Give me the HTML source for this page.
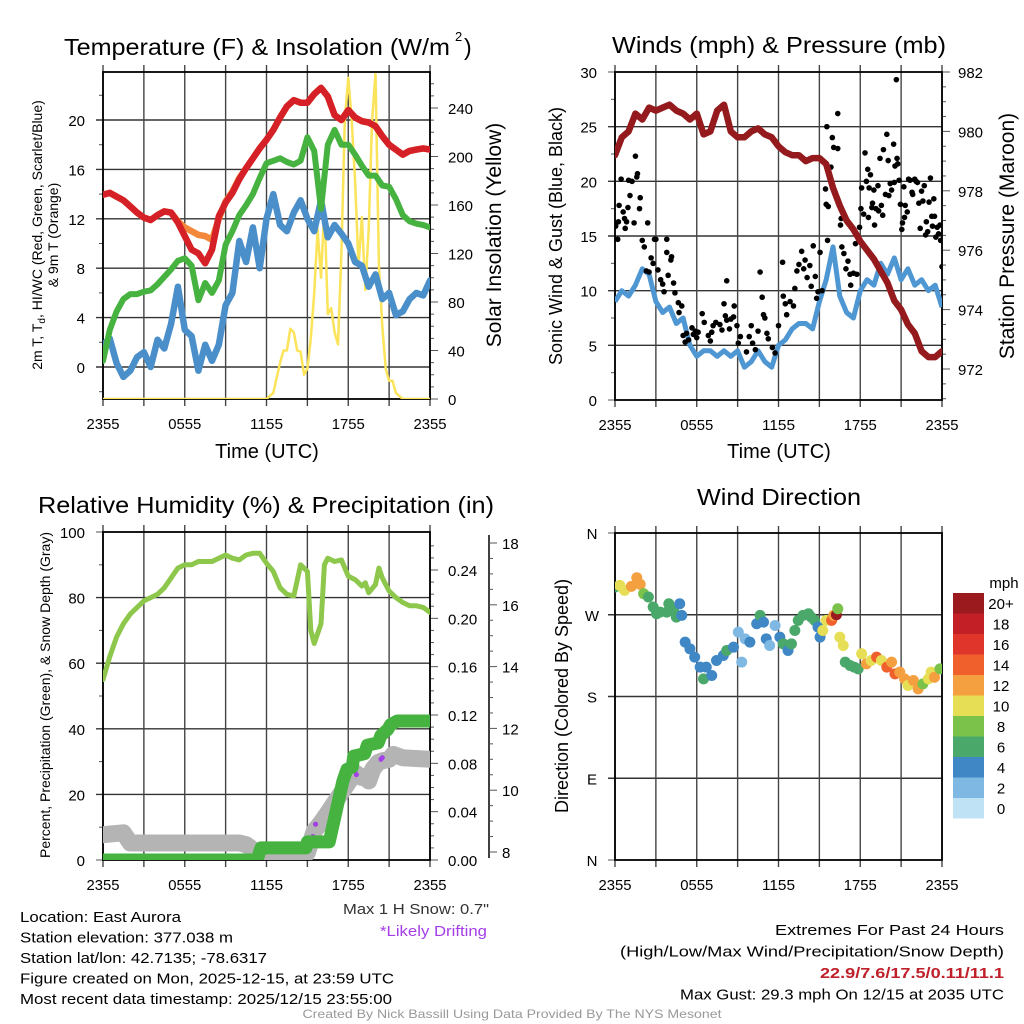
<!DOCTYPE html>
<html><head><meta charset="utf-8"><style>
html,body{margin:0;padding:0;background:#fff}
svg{display:block;font-family:"Liberation Sans",sans-serif}
</style></head><body>
<svg id="fig" width="1024" height="1024" viewBox="0 0 1024 1024" xmlns="http://www.w3.org/2000/svg"></svg>
<script>
// ---------- DATA ----------
const hours = [0,0.5,1,1.5,2,2.5,3,3.5,4,4.5,5,5.5,6,6.5,7,7.5,8,8.5,9,9.5,10,10.5,11,11.5,12,12.5,13,13.5,14,14.5,15,15.5,16,16.5,17,17.5,18,18.5,19,19.5,20,20.5,21,21.5,22,22.5,23,23.5,24];
const tempRed = [13.95,14.1,13.8,13.5,13.0,12.5,12.1,11.9,12.3,12.6,12.5,11.7,10.6,9.5,9.2,8.4,9.5,12.2,13.3,14.1,15.2,16.1,16.9,17.7,18.4,19.2,20.2,21.1,21.6,21.4,21.4,22.1,22.6,21.9,20.4,20.0,20.8,20.2,19.9,19.8,19.5,18.7,18.0,17.6,17.2,17.5,17.6,17.7,17.6];
const temp9m = [13.95,14.1,13.8,13.5,13.0,12.5,12.1,11.9,12.3,12.6,12.5,11.8,11.3,11.0,10.7,10.6,10.3,12.0,13.4,14.2,15.3,16.1,16.9,17.7,18.4,19.2,20.2,21.1,21.6,21.4,21.4,22.1,22.6,21.9,20.4,20.0,20.8,20.2,19.9,19.8,19.5,18.7,18.0,17.6,17.2,17.5,17.6,17.7,17.6];
const dewGreen = [0.5,3.0,4.5,5.5,5.9,5.9,6.1,6.2,6.7,7.3,7.9,8.6,8.8,8.2,5.4,6.8,6.0,7.0,9.9,11.0,12.3,13.1,14.0,15.3,16.5,16.7,16.9,16.6,16.4,16.7,18.6,17.5,12.8,18.0,19.2,18.0,18.0,17.2,16.3,15.5,15.5,14.7,14.6,13.6,12.3,11.8,11.6,11.5,11.3];
const chillBlue = [1.8,2.3,0.3,-0.8,-0.3,0.8,1.2,0.0,2.2,1.5,3.5,6.5,3.0,2.5,-0.3,1.8,0.5,1.8,5.0,6.0,10.2,8.5,11.3,8.0,12.0,14.0,11.5,11.0,12.5,13.5,12.0,11.0,13.5,10.5,11.5,10.8,10.0,8.5,8.2,6.5,7.5,5.5,6.0,4.2,4.5,5.5,6.0,5.8,7.0];
const solarHours = [0,12,12.5,13,13.25,13.5,13.75,14,14.25,14.5,14.75,15,15.25,15.5,15.75,16,16.25,16.5,16.75,17,17.25,17.5,17.75,18,18.25,18.5,18.75,19,19.25,19.5,19.75,20,20.25,20.5,20.75,21,21.25,21.5,22,24];
const solarVals = [0,0,5,30,40,40,58,55,40,39,20,25,50,87,140,100,160,70,75,55,45,120,230,265,230,180,110,150,90,140,230,268,110,60,25,15,15,5,0,0];
const pressure = [979.2,979.8,980.0,980.6,980.4,980.8,980.7,980.8,980.9,980.7,980.6,980.4,980.6,979.9,980.0,980.7,980.9,980.0,979.8,979.8,980.0,980.1,979.9,979.8,979.5,979.3,979.2,979.2,979.0,979.1,979.1,978.9,978.1,977.5,977.0,976.7,976.3,976.0,975.7,975.3,974.9,974.3,974.0,973.5,973.2,972.6,972.4,972.4,972.6];
const windSpeed = [9.0,10.0,9.5,10.5,12.0,11.5,9.0,8.0,8.5,7.0,7.5,5.0,4.0,4.5,4.5,4.0,4.5,4.0,4.5,3.0,3.5,4.5,3.5,3.0,5.0,5.5,6.5,7.0,7.0,6.5,9.0,11.0,14.0,9.5,8.0,7.5,10.0,11.0,10.5,12.5,11.5,13.0,11.0,12.0,10.5,11.0,10.0,10.5,8.5];
const gustHours = [0,0.05,0.2,0.25,0.3,0.45,0.6,0.7,0.75,0.85,0.95,1.0,1.1,1.25,1.4,1.5,1.6,1.65,1.8,1.85,2.0,2.15,2.3,2.4,2.5,2.65,2.8,2.9,3.0,3.15,3.35,3.5,3.6,3.8,3.8,3.9,4.1,4.15,4.3,4.4,4.65,4.7,4.9,5.0,5.15,5.25,5.4,5.65,5.75,5.9,6.0,6.1,6.4,6.55,6.85,7.0,7.1,7.2,7.4,7.7,7.85,8.0,8.1,8.2,8.2,8.4,8.5,8.7,8.75,8.95,9.05,9.2,9.65,9.85,10.0,10.1,10.3,10.5,10.65,10.8,10.9,11.0,11.15,11.25,11.55,11.75,12.0,12.3,12.35,12.5,12.6,12.85,13.1,13.2,13.35,13.5,13.7,13.85,13.95,14.1,14.3,14.4,14.55,14.7,14.8,14.9,15.05,15.2,15.45,15.55,15.5,15.65,15.6,15.85,15.95,16.05,16.35,16.35,16.15,16.55,16.6,16.65,16.8,16.95,17.1,17.25,17.3,17.5,17.65,17.75,17.9,17.95,18.05,18.1,18.25,18.35,18.45,18.55,18.6,18.65,18.75,18.85,18.9,19.0,19.05,19.15,19.3,19.35,19.45,19.55,19.65,19.7,19.85,19.95,20.05,20.1,20.2,20.3,20.45,20.5,20.55,20.65,20.7,20.75,20.85,20.95,21.05,21.1,21.2,21.25,21.3,21.45,21.55,21.65,21.8,21.85,22.0,22.1,22.2,22.3,22.4,22.5,22.6,22.7,22.8,22.85,22.95,23.05,23.15,23.25,23.3,23.4,23.45,23.55,23.65,23.75,23.85,23.9,24.0];
const gustVals = [16.2,15.9,14.7,16.3,17.8,20.2,17.2,16.6,15.7,16.3,17.6,20.1,18.7,20.0,16.2,22.3,20.4,20.7,17.5,18.5,14.6,14.0,11.8,16.2,11.7,13.0,12.5,14.7,14.7,11.9,11.0,10.6,9.9,14.7,13.5,11.4,12.8,13.1,10.7,9.8,8.9,8.0,8.6,5.9,5.3,6.1,5.5,6.6,6.0,6.3,5.7,6.2,7.9,7.1,5.9,5.4,6.2,6.8,7.1,6.9,6.4,8.8,7.7,7.3,10.9,6.5,7.4,7.6,8.6,6.8,5.2,5.8,4.4,5.8,6.8,5.2,4.6,6.3,11.7,9.4,7.8,7.5,6.1,5.6,4.8,4.3,6.8,12.6,9.5,8.8,7.8,9.0,8.6,10.2,11.8,12.4,13.6,12.0,12.8,11.2,12.3,10.4,14.1,11.3,9.3,9.9,13.5,10.0,19.3,25.0,17.9,17.7,14.6,21.3,24.0,23.1,26.2,23.0,19.0,16.0,16.6,14.0,13.4,12.0,12.7,11.5,10.5,11.6,14.3,11.5,14.5,15.8,17.5,19.4,17.0,22.6,20.0,21.1,16.7,19.4,20.6,17.6,18.0,19.2,16.0,17.5,19.6,17.3,22.1,17.8,16.9,22.9,18.8,24.3,21.9,18.7,19.8,19.2,23.4,19.9,21.4,29.3,22.1,21.6,20.1,17.9,15.6,16.2,19.5,16.7,17.8,17.2,20.2,20.1,19.0,18.8,20.2,20.0,19.9,18.0,15.7,19.1,18.2,19.6,15.1,16.3,15.4,18.1,20.3,16.8,15.9,18.4,16.8,14.9,15.8,15.2,16.0,14.6,12.2];
const rhHours = [0,0.5,1,1.5,2,2.5,3,3.5,4,4.5,5,5.5,6,6.5,7,7.5,8,8.5,9,9.5,10,10.5,11,11.5,12,12.5,13,13.5,14,14.5,15,15.25,15.5,16,16.25,16.5,17,17.5,18,18.5,19,19.25,19.5,20,20.25,20.5,21,21.5,22,22.5,23,23.5,24];
const rhVals = [55,62,68,72,75,77,79,80,81,83,86,89,90,90,91,91,91,92,93,92,91.5,93,93.5,93.5,90.5,88,83,81,80.5,90,88,70,66,72,90,92,91,91.5,86.5,85.5,83.5,84.5,81.5,84,89,86,82,80,78.5,77.5,77.5,77,75.5];
const precipHours = [0,11.3,11.6,14.9,15.0,16.6,16.9,17.3,17.6,17.9,18.3,18.4,19.2,19.4,20.2,20.4,20.9,21.1,21.6,24];
const precipVals = [0,0,0.01,0.01,0.015,0.015,0.03,0.05,0.065,0.075,0.077,0.086,0.088,0.095,0.097,0.103,0.108,0.112,0.115,0.115];
const snowHours = [0,1.5,2,10,10.5,11,11.5,14.7,15,15.5,16,16.5,17,17.5,18,18.5,19,19.3,19.5,19.8,20.2,20.5,21,21.3,22,24];
const snowVals = [8.56,8.62,8.29,8.29,8.24,8.08,7.87,7.82,7.98,8.68,8.95,9.27,9.60,9.92,10.25,10.57,10.41,10.46,10.30,10.68,10.90,10.95,11.0,11.16,11.05,11.0];
const driftHours = [15.4,15.6,18.5,18.6,20.4,20.5];
const driftVals = [8.5,8.9,10.6,10.5,11.0,11.05];
const dirHours = [0,0.35,0.7,1.2,1.6,1.85,2.1,2.45,2.8,3.05,3.3,3.8,3.95,4.3,4.5,4.75,4.9,5.15,5.5,5.85,6.25,6.5,6.7,7.1,7.45,7.95,8.2,8.7,9.05,9.3,9.55,9.9,10.4,10.65,10.9,11.1,11.35,11.75,12.1,12.35,12.7,12.95,13.2,13.45,13.8,14.2,14.4,14.65,14.9,15.05,15.25,15.5,15.9,16.05,16.25,16.35,16.5,16.75,16.9,17.25,17.55,17.85,18.1,18.45,18.8,19.2,19.55,19.95,20.3,20.55,20.9,21.25,21.5,21.9,22.25,22.6,23.0,23.2,23.45,23.85];
const dirVals = [300.5,302.4,296.8,301.3,310.8,303.5,293.2,289.5,278.5,271.1,272.9,272.9,282.1,274.8,267.4,282.1,269.3,239.9,232.5,223.3,212.3,199.4,212.3,203.1,219.6,225.1,230.7,234.3,250.9,217.8,243.5,239.9,260.1,269.3,261.9,243.5,236.2,258.2,245.4,238.0,230.7,238.0,252.7,263.8,269.3,271.1,267.4,263.8,256.4,245.4,252.7,263.8,263.8,269.3,270.0,276.6,245.4,236.2,217.8,214.1,212.3,210.4,227.0,216.0,219.6,223.3,219.6,212.3,217.8,204.9,206.8,199.4,192.1,197.6,188.4,193.9,199.4,206.8,201.2,210.4];
const dirSpeeds = [7,10,10,12,12,12,8,7,7,7,6,7,7,7,7,4,4,4,4,4,4,6,4,4,4,4,6,4,3,2,2,4,4,6,4,4,2,2,4,6,4,6,6,6,7,7,6,7,4,4,10,10,14,12,20,8,10,10,6,7,7,7,10,12,10,14,10,14,12,14,12,12,10,12,12,8,10,10,12,8];
const speedColors = ["#bfe3f5","#7fb9e3","#3f88c5","#4aa86a","#7bc24a","#e6df55","#f5a040","#f0602d","#e0352b","#c21f26","#9a1a1d"];
const speedLabels = ["0","2","4","6","8","10","12","14","16","18","20+"];
const timeLabels = ["2355","0555","1155","1755","2355"];

// ---------- HELPERS ----------
const NS="http://www.w3.org/2000/svg";
const svg=document.getElementById('fig');
function mk(tag,attrs,parent){const e=document.createElementNS(NS,tag);for(const k in attrs)e.setAttribute(k,attrs[k]);(parent||svg).appendChild(e);return e;}
function txt(s,x,y,size,anchor,parent,extra){const e=mk('text',Object.assign({x:x,y:y,'font-size':size,'text-anchor':anchor||'middle',fill:'#000'},extra||{}),parent);e.textContent=s;return e;}
const L=103,R=430,L2=615,R2=942;
function xs(left,right){return h=>left+h*(right-left)/24;}
function lin(v0,p0,v1,p1){return v=>p0+(v-v0)*(p1-p0)/(v1-v0);}
function pathFrom(hs,vs,fx,fy){return hs.map((h,i)=>(i?'L':'M')+fx(h).toFixed(1)+','+fy(vs[i]).toFixed(1)).join(' ');}
function clip(id,x,y,w,h){const d=mk('clipPath',{id:id});mk('rect',{x:x,y:y,width:w,height:h},d);}
function frame(g,left,right,top,bottom,yTicksFn,name){
  for(let i=0;i<=8;i++){const x=left+i*(right-left)/8;
    const l=mk('line',{x1:x,y1:top-7,x2:x,y2:bottom+7,stroke:'#444','stroke-width':1.4},g);
    
    }
  const bx=mk('rect',{x:left,y:top,width:right-left,height:bottom-top,fill:'none',stroke:'#000','stroke-width':1.8},g);
  
  
  timeLabels.forEach((s,i)=>{const t=txt(s,left+i*(right-left)/4,bottom+30,15,'middle',g,{textLength:33,lengthAdjust:'spacingAndGlyphs'});
    
    });
}
function hgrid(g,left,right,y,tick){const l=mk('line',{x1:left-(tick?7:0),y1:y,x2:right,y2:y,stroke:'#333','stroke-width':1.4},g);
  
  }
function tick(g,x,y,len){mk('line',{x1:x,y1:y,x2:x+len,y2:y,stroke:'#555','stroke-width':1},g);}
mk('rect',{x:0,y:0,width:1024,height:1024,fill:'#fff'});
clip('c1',L,72,R-L,327);clip('c2',L2,72,R2-L2,328);clip('c3',L,532,R-L,328);clip('c4',L2,533,R2-L2,327);

// ---------- PANEL 1: Temperature ----------
(function(){
const g=mk('g',{});
const T=72,B=399,x=xs(L,R),y=lin(0,367,20,120),ys=lin(0,399,240,108);
const tt=txt('Temperature (F) & Insolation (W/m',64,55,23,'start',g,{textLength:386,lengthAdjust:'spacingAndGlyphs'});

txt('2',455,41,13,'start',g);txt(')',464,55,23,'start',g);
for(let v=0;v<=20;v+=4){hgrid(g,L,R,y(v),true);const t=txt(String(v),85,y(v)+6,15,'end',g);
  }
for(let v=-2;v<=22;v+=4)tick(g,L,y(v),-4);
for(let v=0;v<=270;v+=10){const yy=ys(v);if(yy<T)continue;tick(g,R,yy,v%40==0?8:4);}
for(let v=0;v<=240;v+=40){const t=txt(String(v),448,ys(v)+6,15,'start',g);
  }
frame(g,L,R,T,B,null,'temperature');
const d=mk('g',{'clip-path':'url(#c1)'},g);
const s=[[solarHours,solarVals,'#fbe35a',2.5,ys,'solar-insolation-line'],[hours,chillBlue,'#4a8fca',6.5,y,'windchill-line'],[hours,dewGreen,'#46b240',6,y,'dewpoint-line'],[hours,temp9m,'#f3873a',6.5,y,'temp-9m-line'],[hours,tempRed,'#d42026',6.5,y,'temp-2m-line']];
s.forEach(a=>{const p=mk('path',{d:pathFrom(a[0],a[1],x,a[4]),fill:'none',stroke:a[2],'stroke-width':a[3],'stroke-linejoin':'round','stroke-linecap':'round'},d);
  });
const yt=txt('Time (UTC)',267,458,20,'middle',g);
const a1=txt('2m T, T',0,0,14,'middle',g,{transform:'translate(42,235) rotate(-90)'});
a1.innerHTML='2m T, T<tspan font-size="10" dy="3">d</tspan><tspan dy="-3">, HI/WC (Red, Green, Scarlet/Blue)</tspan>';

txt('& 9m T (Orange)',0,0,14,'middle',g,{transform:'translate(58,235) rotate(-90)'});
const a2=txt('Solar Insolation (Yellow)',0,0,21,'middle',g,{transform:'translate(501,235) rotate(-90)'});

})();

// ---------- PANEL 2: Winds ----------
(function(){
const g=mk('g',{});
const T=72,B=400,x=xs(L2,R2),y=lin(0,400,30,72),yp=lin(972,369,982,72);
const tt=txt('Winds (mph) & Pressure (mb)',779,53,23,'middle',g,{textLength:334,lengthAdjust:'spacingAndGlyphs'});

for(let v=0;v<=30;v+=5){if(v>0&&v<30)hgrid(g,L2,R2,y(v),true);else tick(g,L2,y(v),-7);const t=txt(String(v),597,y(v)+6,15,'end',g);
  }
for(let v=2.5;v<30;v+=5)tick(g,L2,y(v),-4);
for(let v=971;v<=982;v+=0.5){tick(g,R2,yp(v),(v%2==0)?8:4);}
for(let v=972;v<=982;v+=2){const t=txt(String(v),958,yp(v)+6,15,'start',g);
  }
frame(g,L2,R2,T,B,null,'winds');
const d=mk('g',{'clip-path':'url(#c2)'},g);
const w=mk('path',{d:pathFrom(hours,windSpeed,x,y),fill:'none',stroke:'#4f97d3','stroke-width':5,'stroke-linejoin':'round'},d);

gustHours.forEach((h,i)=>{const c=mk('circle',{cx:x(h),cy:y(gustVals[i]),r:2.8,fill:'#000'},d);
  
  });
const p=mk('path',{d:pathFrom(hours,pressure,x,yp),fill:'none',stroke:'#941a1d','stroke-width':6.5,'stroke-linejoin':'round','stroke-linecap':'round'},d);

const yt=txt('Time (UTC)',779,458,20,'middle',g);
const a1=txt('Sonic Wind & Gust (Blue, Black)',0,0,18,'middle',g,{transform:'translate(562,236) rotate(-90)'});

const a2=txt('Station Pressure (Maroon)',0,0,21,'middle',g,{transform:'translate(1014,236) rotate(-90)'});

})();

// ---------- PANEL 3: RH & Precip ----------
(function(){
const g=mk('g',{});
const T=532,B=860,x=xs(L,R),y=lin(0,860,100,532),yq=lin(0,860,0.24,570),ysn=lin(8,852,18,543);
const tt=txt('Relative Humidity (%) & Precipitation (in)',266,513,23,'middle',g,{textLength:456,lengthAdjust:'spacingAndGlyphs'});

for(let v=0;v<=100;v+=20){if(v>0&&v<100)hgrid(g,L,R,y(v),true);else tick(g,L,y(v),-7);const t=txt(String(v),85,y(v)+6,15,'end',g);
  }
for(let v=10;v<100;v+=20)tick(g,L,y(v),-4);
for(let v=0;v<=0.27;v+=0.01){tick(g,R,yq(v),(Math.round(v*100)%4==0)?8:4);}
[0,0.04,0.08,0.12,0.16,0.20,0.24].forEach(v=>{const t=txt(v.toFixed(2),448,yq(v)+6,15,'start',g);
  });
mk('line',{x1:489,y1:535,x2:489,y2:858,stroke:'#000','stroke-width':1.5},g);
for(let v=8;v<=18;v+=0.5)tick(g,489,ysn(v),(v%2==0)?8:4);
for(let v=8;v<=18;v+=2){const t=txt(String(v),502,ysn(v)+6,15,'start',g);
  }
frame(g,L,R,T,B,null,'humidity');
const d=mk('g',{'clip-path':'url(#c3)'},g);
const sn=mk('path',{d:pathFrom(snowHours,snowVals,x,ysn),fill:'none',stroke:'#b4b4b4','stroke-width':17,'stroke-linejoin':'round','stroke-linecap':'round'},d);

driftHours.forEach((h,i)=>{const c=mk('circle',{cx:x(h),cy:ysn(driftVals[i]),r:2.5,fill:'#a43ee8'},d);
  
  });
const pr=mk('path',{d:pathFrom(precipHours,precipVals,x,yq),fill:'none',stroke:'#46b340','stroke-width':13,'stroke-linejoin':'round','stroke-linecap':'round'},d);

const rh=mk('path',{d:pathFrom(rhHours,rhVals,x,y),fill:'none',stroke:'#8dc74b','stroke-width':5,'stroke-linejoin':'round','stroke-linecap':'round'},d);

const a1=txt('Percent, Precipitation (Green), & Snow Depth (Gray)',0,0,14,'middle',g,{transform:'translate(50,695) rotate(-90)'});

})();

// ---------- PANEL 4: Wind direction ----------
(function(){
const g=mk('g',{});
const T=533,B=860,x=xs(L2,R2),y=lin(0,860,360,533);
const tt=txt('Wind Direction',779,505,23,'middle',g,{textLength:164,lengthAdjust:'spacingAndGlyphs'});

const lab=['N','E','S','W','N'];
for(let i=0;i<=4;i++){const v=i*90;if(i>0&&i<4)hgrid(g,L2,R2,y(v),true);else tick(g,L2,y(v),-7);
  const t=txt(lab[i],592,y(v)+6,15,'middle',g);}
frame(g,L2,R2,T,B,null,'wind-direction');
const d=mk('g',{'clip-path':'url(#c4)'},g);
dirHours.forEach((h,i)=>{const b=Math.max(0,Math.min(10,Math.floor(dirSpeeds[i]/2)));
  const c=mk('circle',{cx:x(h),cy:y(dirVals[i]),r:5.5,fill:speedColors[b]},d);
  
  });
const a1=txt('Direction (Colored By Speed)',0,0,18,'middle',g,{transform:'translate(568,696) rotate(-90)'});

const lg=mk('g',{},g);
txt('mph',1004,588,15,'middle',lg);
speedLabels.forEach((s,i)=>{const yy=593+(10-i)*20.5;
  const r=mk('rect',{x:953,y:yy,width:31,height:20.5,fill:speedColors[i]},lg);
  
  const t=txt(s,1001,yy+16,15,'middle',lg);});
})();

// ---------- FOOTER TEXT ----------
const info=[['Location: East Aurora',161,'location-label'],['Station elevation: 377.038 m',213,'elevation-label'],['Station lat/lon: 42.7135; -78.6317',247,'latlon-label'],['Figure created on Mon, 2025-12-15, at 23:59 UTC',374,'created-label'],['Most recent data timestamp: 2025/12/15 23:55:00',372,'timestamp-label']];
info.forEach((a,i)=>{const t=txt(a[0],20,922+i*20.5,15,'start',svg,{textLength:a[1],lengthAdjust:'spacingAndGlyphs'});
  });
const ms=txt('Max 1 H Snow: 0.7"',489,914,15,'end',svg,{textLength:146,lengthAdjust:'spacingAndGlyphs',fill:'#333'});

const ld=txt('*Likely Drifting',487,936,15,'end',svg,{textLength:107,lengthAdjust:'spacingAndGlyphs',fill:'#a43ee8'});

const ex=[['Extremes For Past 24 Hours',229,'#000','normal','extremes-title'],['(High/Low/Max Wind/Precipitation/Snow Depth)',384,'#000','normal','extremes-legend'],['22.9/7.6/17.5/0.11/11.1',184,'#c0202a','bold','extremes-values'],['Max Gust: 29.3 mph On 12/15 at 2035 UTC',324,'#000','normal','max-gust-label']];
ex.forEach((a,i)=>{const t=txt(a[0],1004,935+i*21.5,15,'end',svg,{textLength:a[1],lengthAdjust:'spacingAndGlyphs',fill:a[2],'font-weight':a[3]});
  });
const cr=txt('Created By Nick Bassill Using Data Provided By The NYS Mesonet',512,1018,12,'middle',svg,{textLength:419,lengthAdjust:'spacingAndGlyphs',fill:'#999'});

</script>
</body></html>
